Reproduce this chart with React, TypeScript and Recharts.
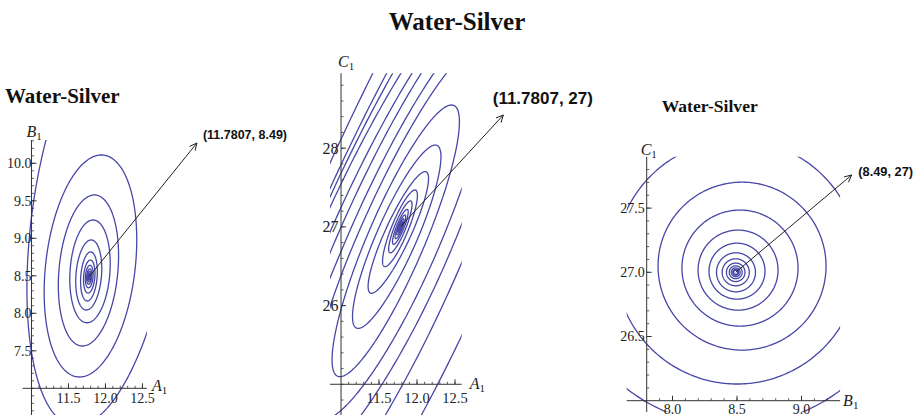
import React from 'react';
import { LineChart, Line, XAxis, YAxis, ReferenceLine, ReferenceDot } from 'recharts';

const SERIF = '"Liberation Serif", "Times New Roman", serif';
const SANS = '"Liberation Sans", Arial, sans-serif';
const INK = '#4747a8';
const AXIS = '#333';

// ---- left panel: A1 (x) vs B1 (y) ----
const abOptimum = { x: 11.7807, y: 8.49 };
const abTip = { x: 13.236, y: 10.271 };
const abCx = [11.961, 11.797, 11.77, 11.791, 11.774, 11.777, 11.7807, 11.7807, 11.7807, 11.7807, 11.7807, 11.7807, 11.7807];
const abCy = [9.297, 8.631, 8.571, 8.559, 8.511, 8.491, 8.49, 8.49, 8.49, 8.49, 8.49, 8.49, 8.49];
const abRx = [0.959, 0.608, 0.399, 0.27, 0.173, 0.111, 0.076, 0.052, 0.035, 0.024, 0.016, 0.011, 0.0075];
const abRy = [2.8, 1.48, 1.007, 0.685, 0.467, 0.327, 0.22, 0.15, 0.102, 0.07, 0.047, 0.032, 0.022];
const abShear = [0.127, 0.1, 0.08, 0.06, 0.07, 0.07, 0.07, 0.07, 0.07, 0.07, 0.07, 0.07, 0.07];
const abXTicks = [11.5, 12.0, 12.5];
const abXLabels = ['11.5', '12.0', '12.5'];
const abYTicks = [7.5, 8.0, 8.5, 9.0, 9.5, 10.0];
const abYLabels = ['7.5', '8.0', '8.5', '9.0', '9.5', '10.0'];

// ---- middle panel: A1 (x) vs C1 (y); outer contours are lopsided (left/right, top/bottom half-widths) ----
const acOptimum = { x: 11.7807, y: 27 };
const acTip = { x: 13.136, y: 28.422 };
const acCx = [11.553, 11.579, 11.599, 11.618, 11.645, 11.667, 11.697, 11.732, 11.72, 11.733, 11.754, 11.776,
  11.7807, 11.7807, 11.7807, 11.7807, 11.7807, 11.7807];
const acCy = [26.595, 26.62, 26.646, 26.671, 26.697, 26.722, 26.747, 26.773, 26.823, 26.875, 26.929, 26.982,
  27, 27, 27, 27, 27, 27];
const acRxLeft = [1.25, 1.118, 1.079, 1.026, 0.895, 0.789, 0.671, 0.57, 0.405, 0.286, 0.184, 0.118,
  0.079, 0.053, 0.036, 0.024, 0.016, 0.011];
const acRxRight = [3.684, 1.474, 3.026, 1.026, 2.5, 0.789, 1.974, 0.57, 0.405, 0.286, 0.184, 0.118,
  0.079, 0.053, 0.036, 0.024, 0.016, 0.011];
const acRyTop = [6.353, 5.083, 4.447, 3.812, 3.558, 3.304, 2.897, 2.541, 1.726, 1.165, 0.773, 0.487,
  0.33, 0.222, 0.15, 0.102, 0.069, 0.046];
const acRyBottom = [12.706, 5.083, 10.165, 3.812, 7.624, 2.795, 6.353, 2.224, 1.726, 1.165, 0.773, 0.487,
  0.33, 0.222, 0.15, 0.102, 0.069, 0.046];
const acShear = [0.435, 0.435, 0.435, 0.435, 0.435, 0.435, 0.435, 0.435, 0.425, 0.435, 0.456, 0.404,
  0.4, 0.4, 0.4, 0.4, 0.4, 0.4];
const acXTicks = [11.5, 12.0, 12.5];
const acXLabels = ['11.5', '12.0', '12.5'];
const acYTicks = [26, 27, 28];
const acYLabels = ['26', '27', '28'];

// ---- right panel: B1 (x) vs C1 (y) ----
const bcOptimum = { x: 8.49, y: 27 };
const bcTip = { x: 9.389, y: 27.758 };
const bcCx = [8.481, 8.5, 8.539, 8.523, 8.508, 8.5, 8.492, 8.49, 8.49, 8.49, 8.49, 8.49, 8.49];
const bcCy = [27.173, 27.08, 27.048, 27.033, 27.017, 27.009, 27.0, 27, 27, 27, 27, 27, 27];
const bcRx = [1.361, 0.945, 0.651, 0.45, 0.31, 0.217, 0.151, 0.105, 0.072, 0.05, 0.034, 0.023, 0.016];
const bcRy = [1.368, 0.95, 0.654, 0.452, 0.312, 0.218, 0.152, 0.105, 0.072, 0.05, 0.034, 0.023, 0.016];
const bcXTicks = [8.0, 8.5, 9.0];
const bcXLabels = ['8.0', '8.5', '9.0'];
const bcYTicks = [26.5, 27.0, 27.5];
const bcYLabels = ['26.5', '27.0', '27.5'];

const steps = (a: number, b: number, s: number) => {
  const out: number[] = [];
  for (let v = a; v <= b + 1e-9; v += s) out.push(Math.round(v * 1000) / 1000);
  return out;
};

type Pt = { x: number; y: number };
// closed contour: each quadrant may use its own half-width / half-height, plus a shear along y
const ring = (cx: number, cy: number, rxL: number, rxR: number, ryT: number, ryB: number, k: number): Pt[] => {
  const pts: Pt[] = [];
  for (let i = 0; i <= 300; i++) {
    const t = (i / 300) * 2 * Math.PI;
    const c = Math.cos(t);
    const s = Math.sin(t);
    const dy = (s >= 0 ? ryT : ryB) * s;
    pts.push({ x: cx + (c >= 0 ? rxR : rxL) * c + k * dy, y: cy + dy });
  }
  return pts;
};

const buildRings = (cx: number[], cy: number[], rxL: number[], rxR: number[], ryT: number[], ryB: number[], k?: number[]) =>
  cx.map((c, i) => ring(c, cy[i], rxL[i], rxR[i], ryT[i], ryB[i], k ? k[i] : 0));

const Name = ({ main, x, y }: { main: string; x: number; y: number }) => (
  <text x={x} y={y} fontFamily={SERIF} fontSize={16} fill="#222">
    <tspan fontStyle="italic">{main}</tspan>
    <tspan fontSize={11} dy={3}>1</tspan>
  </text>
);

interface PanelProps {
  left: number; top: number; width: number; height: number;
  margin: { left: number; right: number; top: number; bottom: number };
  xDomain: [number, number]; yDomain: [number, number];
  origin: Pt;
  rings: Pt[][];
  xTicks: number[]; xLabels: string[]; xMinor: number[];
  yTicks: number[]; yLabels: string[]; yMinor: number[];
  xName: string; yName: string;
  xNameDx: number; xNameDy: number; yNameDx: number; yNameDy: number;
  xLabelDy: number; yLabelDx: number; xLabelSize: number; yLabelSize: number;
  optimum: Pt; tip: Pt; tipDx: number; tipDy: number; tipSize: number;
}

const Panel = (p: PanelProps) => {
  const [x0, x1] = p.xDomain;
  const [y0, y1] = p.yDomain;
  const label = `(${p.optimum.x}, ${p.optimum.y})`;
  return (
    <div style={{ position: 'absolute', left: p.left, top: p.top }}>
      <LineChart width={p.width} height={p.height} margin={p.margin}>
        <XAxis type="number" dataKey="x" domain={p.xDomain} allowDataOverflow hide />
        <YAxis type="number" domain={p.yDomain} allowDataOverflow hide />
        {p.rings.map((r, i) => (
          <Line key={`r${i}`} data={r} dataKey="y" type="linear" dot={false} activeDot={false}
            isAnimationActive={false} stroke={INK} strokeWidth={1.3} />
        ))}
        <ReferenceLine segment={[{ x: x0, y: p.origin.y }, { x: x1, y: p.origin.y }]} ifOverflow="visible" stroke={AXIS} strokeWidth={1} />
        <ReferenceLine segment={[{ x: p.origin.x, y: y0 }, { x: p.origin.x, y: y1 }]} ifOverflow="visible" stroke={AXIS} strokeWidth={1} />
        {p.xMinor.map((v) => (
          <ReferenceDot key={`xm${v}`} x={v} y={p.origin.y} ifOverflow="visible"
            shape={(s: any) => <line x1={s.cx} y1={s.cy} x2={s.cx} y2={s.cy - 2.5} stroke={AXIS} strokeWidth={0.8} />} />
        ))}
        {p.yMinor.map((v) => (
          <ReferenceDot key={`ym${v}`} x={p.origin.x} y={v} ifOverflow="visible"
            shape={(s: any) => <line x1={s.cx} y1={s.cy} x2={s.cx + 2.5} y2={s.cy} stroke={AXIS} strokeWidth={0.8} />} />
        ))}
        {p.xTicks.map((v, i) => (
          <ReferenceDot key={`xt${v}`} x={v} y={p.origin.y} ifOverflow="visible"
            shape={(s: any) => (
              <g>
                <line x1={s.cx} y1={s.cy} x2={s.cx} y2={s.cy - 5} stroke={AXIS} strokeWidth={1} />
                <text x={s.cx} y={s.cy + p.xLabelDy} textAnchor="middle" fontFamily={SERIF} fontSize={p.xLabelSize} fill="#222">{p.xLabels[i]}</text>
              </g>
            )} />
        ))}
        {p.yTicks.map((v, i) => (
          <ReferenceDot key={`yt${v}`} x={p.origin.x} y={v} ifOverflow="visible"
            shape={(s: any) => (
              <g>
                <line x1={s.cx} y1={s.cy} x2={s.cx + 5} y2={s.cy} stroke={AXIS} strokeWidth={1} />
                <text x={s.cx + p.yLabelDx} y={s.cy + p.yLabelSize * 0.35} textAnchor="end" fontFamily={SERIF} fontSize={p.yLabelSize} fill="#222">{p.yLabels[i]}</text>
              </g>
            )} />
        ))}
        <ReferenceDot x={x1} y={p.origin.y} ifOverflow="visible"
          shape={(s: any) => <Name main={p.xName} x={s.cx + p.xNameDx} y={s.cy + p.xNameDy} />} />
        <ReferenceDot x={p.origin.x} y={y1} ifOverflow="visible"
          shape={(s: any) => <Name main={p.yName} x={s.cx + p.yNameDx} y={s.cy + p.yNameDy} />} />
        <ReferenceLine segment={[p.optimum, p.tip]} ifOverflow="visible"
          shape={(s: any) => {
            const a = Math.atan2(s.y2 - s.y1, s.x2 - s.x1);
            const h = 8;
            const w = 0.45;
            return (
              <g stroke="#222" strokeWidth={1} fill="none">
                <line x1={s.x1} y1={s.y1} x2={s.x2} y2={s.y2} />
                <polyline points={`${s.x2 - h * Math.cos(a - w)},${s.y2 - h * Math.sin(a - w)} ${s.x2},${s.y2} ${s.x2 - h * Math.cos(a + w)},${s.y2 - h * Math.sin(a + w)}`} />
              </g>
            );
          }} />
        <ReferenceDot x={p.tip.x} y={p.tip.y} ifOverflow="visible"
          shape={(s: any) => (
            <text x={s.cx + p.tipDx} y={s.cy + p.tipDy} fontFamily={SANS} fontWeight="bold" fontSize={p.tipSize} fill="#111">{label}</text>
          )} />
      </LineChart>
    </div>
  );
};

export default function App() {
  return (
    <div style={{ position: 'absolute', left: 0, top: 0, width: 919, height: 415, overflow: 'hidden', background: '#fff' }}>
      <svg width={919} height={415} style={{ position: 'absolute', left: 0, top: 0 }}>
        <text x={457} y={30} textAnchor="middle" fontFamily={SERIF} fontWeight="bold" fontSize={25} fill="#111">Water-Silver</text>
        <text x={5} y={103} fontFamily={SERIF} fontWeight="bold" fontSize={21} fill="#111">Water-Silver</text>
        <text x={661.7} y={111.7} fontFamily={SERIF} fontWeight="bold" fontSize={17.6} fill="#111">Water-Silver</text>
      </svg>
      <Panel left={0} top={110} width={300} height={310}
        margin={{ left: 22.6, right: 153.1, top: 30.05, bottom: 0.2 }}
        xDomain={[10.88, 12.56]} yDomain={[6.58, 10.31]} origin={{ x: 11.0, y: 7.0 }}
        rings={buildRings(abCx, abCy, abRx, abRx, abRy, abRy, abShear)}
        xTicks={abXTicks} xLabels={abXLabels} xMinor={steps(11.1, 12.5, 0.1)}
        yTicks={abYTicks} yLabels={abYLabels} yMinor={steps(6.6, 10.3, 0.1)}
        xName="A" yName="B" xNameDx={5} xNameDy={3} yNameDx={-5} yNameDy={-3}
        xLabelDy={15} yLabelDx={0} xLabelSize={14} yLabelSize={14}
        optimum={abOptimum} tip={abTip} tipDx={6} tipDy={-3.5} tipSize={12.5} />
      <Panel left={300} top={40} width={320} height={380}
        margin={{ left: 30, right: 158.3, top: 33.28, bottom: 0 }}
        xDomain={[10.855, 12.588]} yDomain={[24.546, 28.952]} origin={{ x: 11.0, y: 25.0 }}
        rings={buildRings(acCx, acCy, acRxLeft, acRxRight, acRyTop, acRyBottom, acShear)}
        xTicks={acXTicks} xLabels={acXLabels} xMinor={steps(11.1, 12.5, 0.1)}
        yTicks={acYTicks} yLabels={acYLabels} yMinor={steps(24.6, 28.8, 0.2)}
        xName="A" yName="C" xNameDx={8} xNameDy={5} yNameDx={-3} yNameDy={-6}
        xLabelDy={19} yLabelDx={-2.5} xLabelSize={14.5} yLabelSize={16}
        optimum={acOptimum} tip={acTip} tipDx={-10.6} tipDy={-10.7} tipSize={17} />
      <Panel left={620} top={100} width={299} height={320}
        margin={{ left: 6.7, right: 78.9, top: 56.74, bottom: 8 }}
        xDomain={[7.645, 9.299]} yDomain={[25.912, 27.9]} origin={{ x: 7.8, y: 26.0 }}
        rings={buildRings(bcCx, bcCy, bcRx, bcRx, bcRy, bcRy)}
        xTicks={bcXTicks} xLabels={bcXLabels} xMinor={steps(7.9, 9.2, 0.1)}
        yTicks={bcYTicks} yLabels={bcYLabels} yMinor={steps(26.1, 27.8, 0.1)}
        xName="B" yName="C" xNameDx={3} xNameDy={5} yNameDx={-6} yNameDy={-2}
        xLabelDy={13.5} yLabelDx={-2} xLabelSize={14} yLabelSize={14}
        optimum={bcOptimum} tip={bcTip} tipDx={6.6} tipDy={1} tipSize={12.8} />
    </div>
  );
}
